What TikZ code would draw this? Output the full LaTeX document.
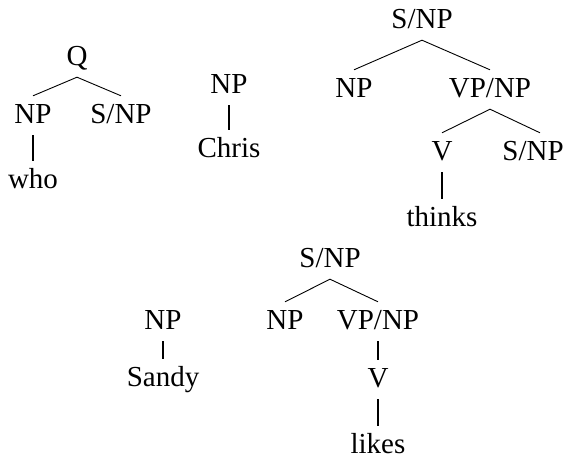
\documentclass[tikz,border=0pt]{standalone}
\usepackage{fontspec}
\setmainfont{Liberation Serif}
\usepackage{tikz}
\tikzstyle{cat} = [anchor=base, font=\fontsize{29}{35}\selectfont, text height=19pt, text depth=4pt, inner xsep=2pt, inner ysep=8pt]
\tikzstyle{branch} = [line width=0.9pt]
\tikzstyle{stem} = [line width=2.2pt]

\begin{document}
\begin{tikzpicture}[x=1pt,y=-1pt]
\useasboundingbox (0,0) rectangle (569,458);
% Q tree
\node (q) at (77,65) [cat] {Q};
\node (qnp) at (33,123) [cat] {NP};
\node (qsnp) at (121,123) [cat] {S/NP};
\node (who) at (33,188) [cat] {who};
%
\node (cnp) at (229,93) [cat] {NP};
\node (chris) at (229,157) [cat] {Chris};
%
\node (tsnp) at (422,28) [cat] {S/NP};
\node (tnp) at (354,97) [cat] {NP};
\node (tvpnp) at (490,97) [cat] {VP/NP};
\node (tv) at (442,160) [cat] {V};
\node (tsnp2) at (533,160) [cat] {S/NP};
\node (thinks) at (442,226) [cat] {thinks};
%
\node (snp) at (163,329) [cat] {NP};
\node (sandy) at (163,386) [cat] {Sandy};
%
\node (lsnp) at (330,267) [cat] {S/NP};
\node (lnp) at (285,329) [cat] {NP};
\node (lvpnp) at (378,329) [cat] {VP/NP};
\node (lv) at (378,387) [cat] {V};
\node (likes) at (378,453) [cat] {likes};
%
\draw [branch] (qnp.north) -- (q.south) -- (qsnp.north);
\draw [stem] (qnp) -- (who);
\draw [stem] (cnp) -- (chris);
\draw [branch] (tnp.north) -- (tsnp.south) -- (tvpnp.north);
\draw [branch] (tv.north) -- (tvpnp.south) -- ([xshift=7pt]tsnp2.north);
\draw [stem] (tv) -- (thinks);
\draw [stem] (snp) -- (sandy);
\draw [branch] (lnp.north) -- (lsnp.south) -- (lvpnp.north);
\draw [stem] (lvpnp) -- (lv);
\draw [stem] (lv) -- (likes);

\end{tikzpicture}
\end{document}
